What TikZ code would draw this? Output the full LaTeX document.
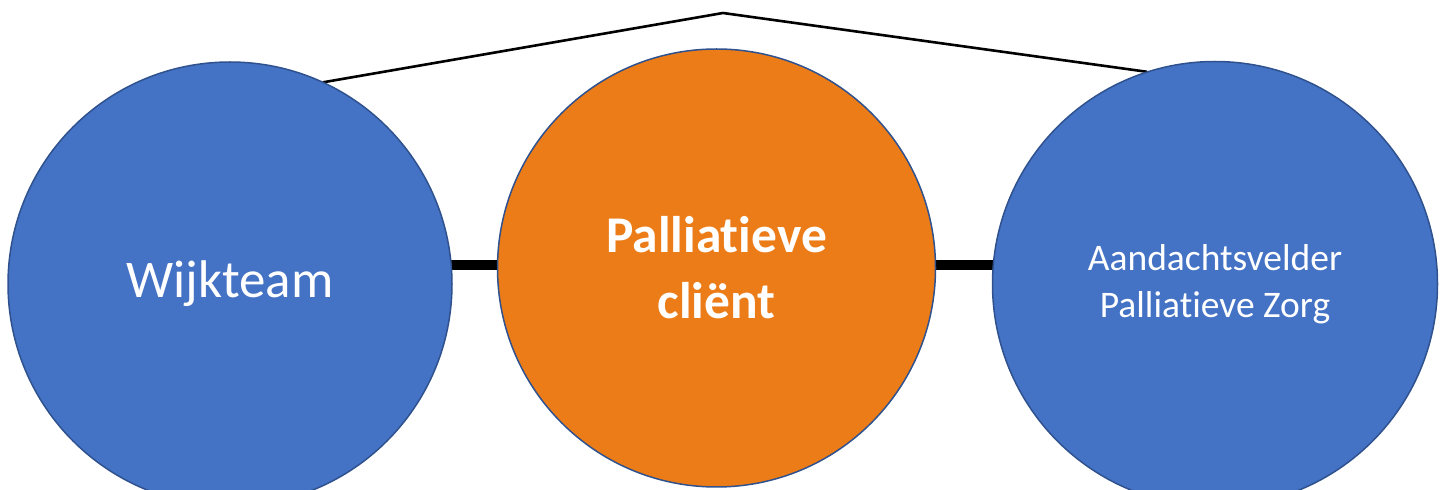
\documentclass[tikz,border=0pt]{standalone}
\usepackage{fontspec}
\setmainfont{Carlito}[RawFeature={-liga;-clig;-dlig;-calt}]
\usetikzlibrary{backgrounds}
\definecolor{cblue}{HTML}{4472C4}
\definecolor{cborder}{HTML}{2F528F}
\definecolor{corange}{HTML}{EC7C17}
\tikzset{
  bubble/.style={circle, draw=cborder, line width=1.5pt, inner sep=0pt, text=white, align=center},
  bluebubble/.style={bubble, fill=cblue},
  orangebubble/.style={bubble, fill=corange},
  thickconn/.style={line width=10pt, black},
  thinconn/.style={line width=2.6pt, black, line join=miter},
}
\begin{document}
\begin{tikzpicture}[x=1pt,y=1pt]
\useasboundingbox (0,0) rectangle (1446,490);
\node[bluebubble, minimum size=444pt, font=\fontsize{53}{60}\selectfont] (L) at (230,206) {Wijkteam};
\node[orangebubble, minimum size=438pt, font=\fontsize{51.5}{66}\selectfont\bfseries] (M) at (716.5,222) {Palliatieve\\cliënt};
\node[bluebubble, minimum size=445pt, font=\fontsize{37.5}{47}\selectfont] (R) at (1215,206) {Aandachtsvelder\\Palliatieve Zorg};
\coordinate (apex) at (723,477);
\begin{scope}[on background layer]
  \draw[thickconn] ([yshift=19pt]L.center) -- ([yshift=19pt]R.center);
  \draw[thinconn] (L.center) -- (L.65.7) -- (apex) -- (R.108.8) -- (R.center);
\end{scope}
\end{tikzpicture}
\end{document}
